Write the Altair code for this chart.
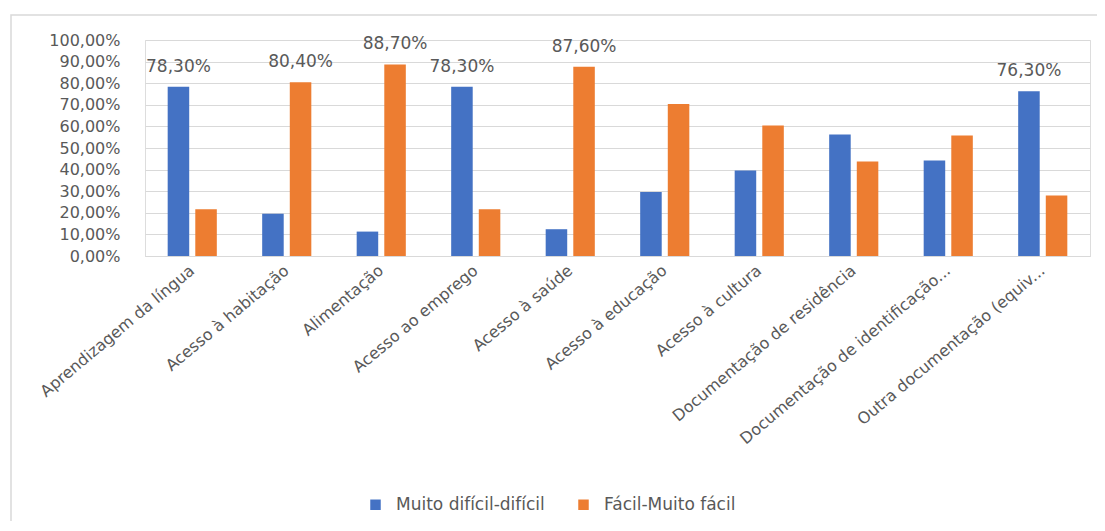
import altair as alt
import pandas as pd

categories = [
    "Aprendizagem da língua",
    "Acesso à habitação",
    "Alimentação",
    "Acesso ao emprego",
    "Acesso à saúde",
    "Acesso à educação",
    "Acesso à cultura",
    "Documentação de residência",
    "Documentação de identificação...",
    "Outra documentação (equiv...",
]
series = ["Muito difícil-difícil", "Fácil-Muito fácil"]
dificil = [0.783, 0.196, 0.113, 0.783, 0.124, 0.296, 0.396, 0.562, 0.442, 0.763]
facil = [0.217, 0.804, 0.887, 0.217, 0.876, 0.704, 0.604, 0.438, 0.558, 0.280]
labelled = [True, True, True, True, True, False, False, False, False, True]
y_ticks = [0, 0.1, 0.2, 0.3, 0.4, 0.5, 0.6, 0.7, 0.8, 0.9, 1.0]
colors = ["#4472C4", "#ED7D31"]

rows = []
for i, c in enumerate(categories):
    big = 0 if dificil[i] >= facil[i] else 1
    for s, vals in enumerate([dificil, facil]):
        rows.append({
            "cat": c,
            "serie": series[s],
            "v": vals[i],
            "show": labelled[i] and s == big,
        })
df = pd.DataFrame(rows)

GRAY = "#595959"
FONT = "DejaVu Sans"

yenc = alt.Y(
    "v:Q",
    title=None,
    scale=alt.Scale(domain=[0, 1], nice=False),
    axis=alt.Axis(
        values=y_ticks,
        tickCount=11,
        labelExpr="replace(format(datum.value, '.2%'), '.', ',')",
        labelFontSize=16,
        labelColor=GRAY,
        labelFont=FONT,
        labelPadding=25,
        labelOverlap=False,
        labelFlush=False,
        ticks=False,
        domain=False,
        gridColor="#D9D9D9",
    ),
)

base = alt.Chart(df).encode(
    x=alt.X(
        "cat:N",
        sort=categories,
        title=None,
        scale=alt.Scale(paddingInner=0.48, paddingOuter=0.24),
        axis=alt.Axis(
            labelAngle=-40,
            labelAlign="right",
            labelBaseline="middle",
            labelPadding=12,
            labelFontSize=16,
            labelColor=GRAY,
            labelFont=FONT,
            ticks=False,
            domainColor="#D9D9D9",
            labelLimit=400,
            labelOverlap=False,
        ),
    ),
    xOffset=alt.XOffset(
        "serie:N", sort=series, scale=alt.Scale(paddingInner=0.22, paddingOuter=0)
    ),
    y=yenc,
)

bars = base.mark_bar().encode(
    color=alt.Color(
        "serie:N",
        sort=series,
        scale=alt.Scale(domain=series, range=colors),
        legend=alt.Legend(
            title=None,
            orient="none",
            direction="horizontal",
            legendX=222,
            legendY=456,
            symbolType="square",
            symbolSize=110,
            symbolStrokeWidth=0,
            labelFontSize=17,
            labelColor=GRAY,
            labelFont=FONT,
            labelOffset=12,
            columnPadding=30,
        ),
    ),
)

labels = base.transform_filter("datum.show").transform_calculate(
    lab="replace(format(datum.v, '.2%'), '.', ',')"
).mark_text(
    baseline="middle", dy=-20, fontSize=17, color=GRAY, font=FONT
).encode(
    text="lab:N",
)

frame = alt.Chart(pd.DataFrame({"a": [1]})).mark_rect(
    fill=None, stroke="#D9D9D9", strokeWidth=1.5
).encode(
    x=alt.value(-134), x2=alt.value(960), y=alt.value(-25), y2=alt.value(520)
)

chart = alt.layer(frame, bars, labels).properties(
    width=945,
    height=216,
    padding={"left": 137, "top": 32, "right": 7, "bottom": 265},
    autosize=alt.AutoSizeParams(type="none"),
).configure_view(stroke=None).configure(background="white")

chart.save("out.html", embed_options={"renderer": "svg", "actions": False})
